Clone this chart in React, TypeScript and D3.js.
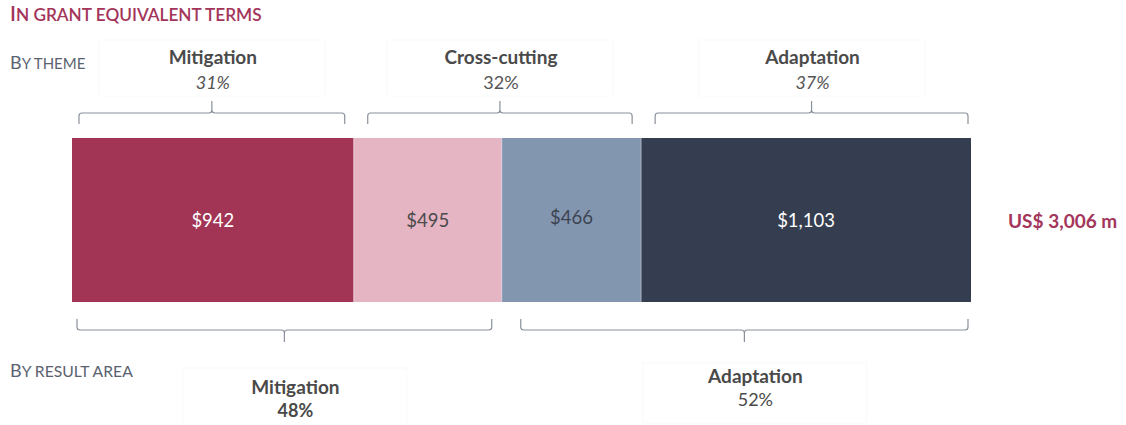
import React from "react";
import * as d3 from "d3";

const segments = ["Mitigation", "Cross-cutting (mitigation)", "Cross-cutting (adaptation)", "Adaptation"];
const values = [942, 495, 466, 1103];
const valueLabels = ["$942", "$495", "$466", "$1,103"];
const segColors = ["#a23456", "#e6b5c4", "#8396b0", "#343e50"];
const segTextColors = ["#ffffff", "#4a4a4a", "#3d4452", "#ffffff"];

const themeNames = ["Mitigation", "Cross-cutting", "Adaptation"];
const themePct = ["31%", "32%", "37%"];
const themeItalic = [true, false, true];
const themeSegs = [[0, 0], [1, 2], [3, 3]];

const resultNames = ["Mitigation", "Adaptation"];
const resultPct = ["48%", "52%"];
const resultPctBold = [true, false];
const resultSegs = [[0, 1], [2, 3]];

const totalLabel = "US$ 3,006 m";

const FONT = "Lato, 'Noto Sans', sans-serif";

function brace(x0: number, x1: number, y: number, dir: number) {
  const cx = (x0 + x1) / 2;
  const h = 11 * -dir;
  const r = 3;
  const n = 12 * dir;
  return [
    `M${x0},${y + h}`,
    `L${x0},${y + (h > 0 ? r : -r)}`,
    `Q${x0},${y} ${x0 + r},${y}`,
    `L${cx - r},${y}`,
    `Q${cx},${y} ${cx},${y + (n > 0 ? r : -r)}`,
    `L${cx},${y + n}`,
    `M${cx},${y + (n > 0 ? r : -r)}`,
    `Q${cx},${y} ${cx + r},${y}`,
    `L${x1 - r},${y}`,
    `Q${x1},${y} ${x1},${y + (h > 0 ? r : -r)}`,
    `L${x1},${y + h}`,
  ].join(" ");
}

export default function App() {
  const W = 1126, H = 425;
  const total = d3.sum(values);
  const x = d3.scaleLinear().domain([0, total]).range([72, 971]);
  const starts = d3.cumsum([0, ...values]);
  const barY = 138, barH = 164;

  const segX0 = (i: number) => x(starts[i]);
  const segX1 = (i: number) => x(starts[i + 1]);

  const topInsetL = [7, 14, 14];
  const topInsetR = [9, 9, 3];
  const botInsetL = [5, 19];
  const botInsetR = [10, 3];

  return (
    <svg width={W} height={H} style={{ position: "absolute", left: 0, top: 0, fontFamily: FONT }}>
      <rect width={W} height={H} fill="#fff" />
      <text x={10} y={21} fill="#a3355a" fontWeight={600}>
        <tspan fontSize={20.5}>I</tspan>
        <tspan fontSize={17.2}>N GRANT EQUIVALENT TERMS</tspan>
      </text>
      <text x={10} y={69} fill="#5a6270">
        <tspan fontSize={18}>B</tspan>
        <tspan fontSize={15}>Y THEME</tspan>
      </text>
      <text x={10} y={377} fill="#5a6270">
        <tspan fontSize={18}>B</tspan>
        <tspan fontSize={15.7}>Y RESULT AREA</tspan>
      </text>

      {themeNames.map((name, i) => {
        const [a, b] = themeSegs[i];
        const x0 = segX0(a) + topInsetL[i];
        const x1 = segX1(b) - topInsetR[i];
        const cx = (x0 + x1) / 2;
        return (
          <g key={name}>
            <rect x={cx - 113} y={40} width={226} height={56} fill="none" stroke="#fafafa" />
            <text x={cx + 1} y={64} textAnchor="middle" fontSize={19} fontWeight={700} fill="#4a4a4a">{name}</text>
            <text x={cx + 1} y={89} textAnchor="middle" fontSize={18} fontStyle={themeItalic[i] ? "italic" : "normal"} fill="#555">{themePct[i]}</text>
            <path d={brace(x0, x1, 113, -1)} fill="none" stroke="#8a919c" strokeWidth={1.2} />
          </g>
        );
      })}

      {values.map((v, i) => (
        <g key={segments[i]}>
          <rect x={segX0(i)} y={barY} width={segX1(i) - segX0(i)} height={barH} fill={segColors[i]} />
          <text x={(segX0(i) + segX1(i)) / 2} y={barY + barH / 2 + (i === 2 ? 4 : 7)} textAnchor="middle" fontSize={18.5} fill={segTextColors[i]}>{valueLabels[i]}</text>
        </g>
      ))}
      {values.slice(1).map((v, i) => (
        <line key={i} x1={segX0(i + 1)} x2={segX0(i + 1)} y1={barY} y2={barY + barH} stroke="#ffffff" strokeOpacity={0.35} />
      ))}

      <text x={1008} y={228} fontSize={19} fontWeight={700} fill="#a3355a">{totalLabel}</text>

      {resultNames.map((name, i) => {
        const [a, b] = resultSegs[i];
        const x0 = segX0(a) + botInsetL[i];
        const x1 = segX1(b) - botInsetR[i];
        const cx = (x0 + x1) / 2;
        const ty = i === 0 ? 394 : 383;
        return (
          <g key={name}>
            <rect x={cx - 112 + 10} y={i === 0 ? 368 : 363} width={224} height={60} fill="none" stroke="#fafafa" />
            <path d={brace(x0, x1, 330, 1)} fill="none" stroke="#8a919c" strokeWidth={1.2} />
            <text x={cx + 11} y={ty} textAnchor="middle" fontSize={19} fontWeight={700} fill="#4a4a4a">{name}</text>
            <text x={cx + 11} y={ty + 23} textAnchor="middle" fontSize={18} fontWeight={resultPctBold[i] ? 700 : 400} fill="#4a4a4a">{resultPct[i]}</text>
          </g>
        );
      })}
    </svg>
  );
}
